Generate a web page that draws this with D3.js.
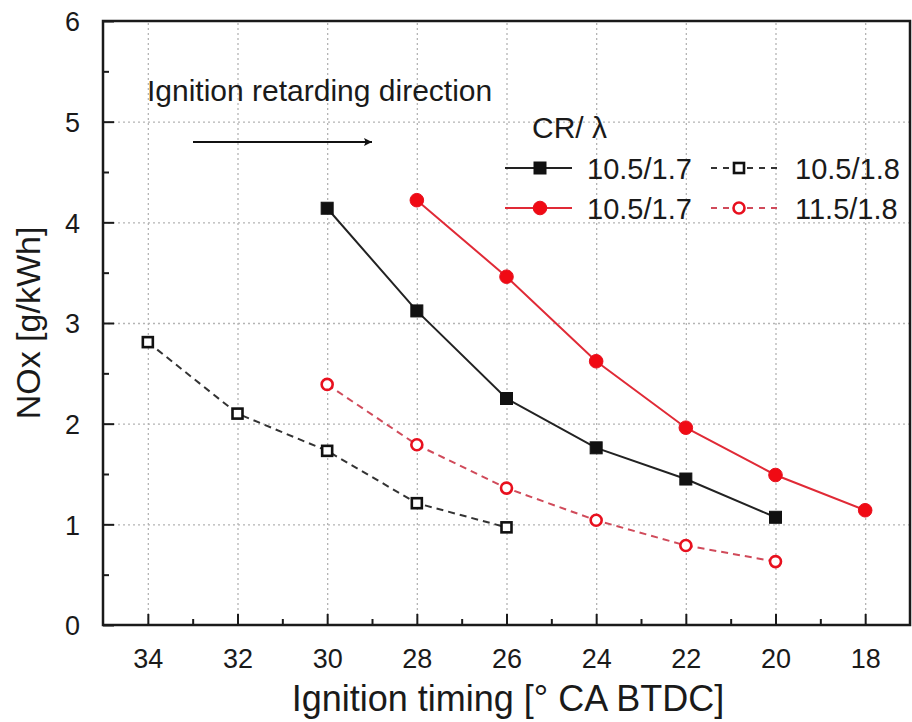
<!DOCTYPE html>
<html><head><meta charset="utf-8">
<script src="https://cdn.jsdelivr.net/npm/d3@7"></script>
<style>
body{margin:0;background:#fff;}
text{font-family:"Liberation Sans",Arial,sans-serif;fill:#1a1a1a;}
</style></head>
<body><svg id="chart" width="912" height="722"></svg>
<script>
// ---- data ----
const xTicks = [34, 32, 30, 28, 26, 24, 22, 20, 18];
const yTicks = [0, 1, 2, 3, 4, 5, 6];
const s1x = [30, 28, 26, 24, 22, 20];
const s1y = [4.14, 3.12, 2.25, 1.76, 1.45, 1.07];          // 10.5/1.7 black solid
const s2x = [28, 26, 24, 22, 20, 18];
const s2y = [4.22, 3.46, 2.62, 1.96, 1.49, 1.14];          // 10.5/1.7 red solid
const s3x = [34, 32, 30, 28, 26];
const s3y = [2.81, 2.10, 1.73, 1.21, 0.97];                 // 10.5/1.8 black dashed
const s4x = [30, 28, 26, 24, 22, 20];
const s4y = [2.39, 1.79, 1.36, 1.04, 0.79, 0.63];          // 11.5/1.8 red dashed
const legendTitle = "CR/ λ";
const legendLabels = ["10.5/1.7", "10.5/1.8", "10.5/1.7", "11.5/1.8"];
const xTitle = "Ignition timing [° CA BTDC]";
const yTitle = "NOx [g/kWh]";
const annotation = "Ignition retarding direction";

const svg = d3.select("#chart");
const L = 103, R = 910, T = 21, B = 625;
const x = d3.scaleLinear().domain([35, 17]).range([L, R]);
const y = d3.scaleLinear().domain([0, 6]).range([B, T]);

// grid (dotted, light gray) via axes with full-length ticks
const gridX = d3.axisBottom(x).tickValues(xTicks).tickSize(-(B - T)).tickFormat("");
const gridY = d3.axisLeft(y).tickValues(yTicks.filter(d => d > 0 && d < 6)).tickSize(-(R - L)).tickFormat("");
function styleGrid(g){
  g.select(".domain").remove();
  g.selectAll(".tick line").attr("stroke", "#b4b4b4").attr("stroke-width", 1.3)
    .style("stroke-dasharray", "2,3");
}
svg.append("g").attr("transform", `translate(0,${B})`).call(gridX).call(styleGrid);
svg.append("g").attr("transform", `translate(${L},0)`).call(gridY).call(styleGrid);

// axes
const xAxis = d3.axisBottom(x).tickValues(xTicks).tickSize(-11).tickPadding(24).tickFormat(d3.format("d"));
const xMinor = d3.axisBottom(x).tickValues(d3.range(33, 18, -2)).tickSize(-6).tickFormat("");
const yAxis = d3.axisLeft(y).tickValues(yTicks).tickSize(-11).tickPadding(23).tickFormat(d3.format("d"));
const yMinor = d3.axisLeft(y).tickValues(d3.range(0.5, 6, 1)).tickSize(-6).tickFormat("");

function styleAxis(g){
  g.select(".domain").remove();
  g.selectAll(".tick line").attr("stroke", "#1a1a1a").attr("stroke-width", 2);
  g.selectAll(".tick text").attr("font-size", 27).attr("font-family", "Liberation Sans, Arial, sans-serif").attr("fill", "#1a1a1a");
}
svg.append("g").attr("transform", `translate(0,${B})`).call(xAxis).call(styleAxis);
svg.append("g").attr("transform", `translate(0,${B})`).call(xMinor).call(styleAxis);
svg.append("g").attr("transform", `translate(${L},0)`).call(yAxis).call(styleAxis)
  .selectAll(".tick text").attr("dy", "0.36em");
svg.append("g").attr("transform", `translate(${L},0)`).call(yMinor).call(styleAxis);

// frame
svg.append("rect").attr("x", L).attr("y", T).attr("width", R - L).attr("height", B - T)
  .attr("fill", "none").attr("stroke", "#1a1a1a").attr("stroke-width", 2.5);

// series
const line = d3.line().x(d => x(d[0])).y(d => y(d[1]));
const zip = (a, b) => a.map((v, i) => [v, b[i]]);
const series = [
  {pts: zip(s1x, s1y), color: "#222", dash: null, marker: "sq", fill: "#111"},
  {pts: zip(s2x, s2y), color: "#e02a36", dash: null, marker: "ci", fill: "#f00a14"},
  {pts: zip(s3x, s3y), color: "#333", dash: "7,5", marker: "sq", fill: "#fff"},
  {pts: zip(s4x, s4y), color: "#d04a5a", dash: "7,5", marker: "ci", fill: "#fff"}
];
function drawMarker(g, s, cx, cy){
  const open = s.fill === "#fff";
  if (s.marker === "sq") {
    const sz = open ? 10 : 12;
    g.append("rect").attr("x", cx - sz/2).attr("y", cy - sz/2).attr("width", sz).attr("height", sz)
      .attr("fill", s.fill).attr("stroke", "#111").attr("stroke-width", open ? 2.6 : 1);
  } else {
    g.append("circle").attr("cx", cx).attr("cy", cy).attr("r", open ? 5.5 : 6.8)
      .attr("fill", s.fill).attr("stroke", "#e8101e").attr("stroke-width", open ? 2.6 : 1);
  }
}
series.forEach(s => {
  svg.append("path").datum(s.pts).attr("d", line).attr("fill", "none")
    .attr("stroke", s.color).attr("stroke-width", 2).attr("stroke-dasharray", s.dash);
  const g = svg.append("g");
  s.pts.forEach(p => drawMarker(g, s, x(p[0]), y(p[1])));
});

// legend
const lg = svg.append("g");
lg.append("text").attr("x", 532).attr("y", 138).attr("font-size", 30).text(legendTitle);
const legPos = [
  {s: 0, lx: 505, y: 168, tx: 587},
  {s: 2, lx: 711, y: 168, tx: 795},
  {s: 1, lx: 505, y: 208, tx: 587},
  {s: 3, lx: 711, y: 208, tx: 795}
];
legPos.forEach((p, i) => {
  const s = series[p.s];
  const w = 67;
  lg.append("line").attr("x1", p.lx).attr("x2", p.lx + w).attr("y1", p.y).attr("y2", p.y)
    .attr("stroke", s.color).attr("stroke-width", 2).attr("stroke-dasharray", s.dash ? "6,6" : null);
  drawMarker(lg, s, p.lx + (s.dash ? 28 : 35), p.y);
  lg.append("text").attr("x", p.tx).attr("y", p.y + 11).attr("font-size", 29).text(legendLabels[i]);
});

// annotation
svg.append("text").attr("x", 147).attr("y", 101).attr("font-size", 30).text(annotation);
svg.append("defs").append("marker").attr("id", "arr").attr("viewBox", "0 0 10 10")
  .attr("refX", 10).attr("refY", 5).attr("markerWidth", 16).attr("markerHeight", 8)
  .attr("markerUnits", "userSpaceOnUse").attr("orient", "auto")
  .append("path").attr("d", "M0,0 L10,5 L0,10 L2,5 z").attr("fill", "#111");
svg.append("line").attr("x1", 193).attr("x2", 372).attr("y1", 142).attr("y2", 142)
  .attr("stroke", "#111").attr("stroke-width", 2.2).attr("marker-end", "url(#arr)");

// axis titles
svg.append("text").attr("x", 508).attr("y", 711).attr("text-anchor", "middle")
  .attr("font-size", 36).text(xTitle);
svg.append("text").attr("transform", `translate(40,${(T + B) / 2}) rotate(-90)`)
  .attr("text-anchor", "middle").attr("font-size", 34).text(yTitle);
</script></body></html>
